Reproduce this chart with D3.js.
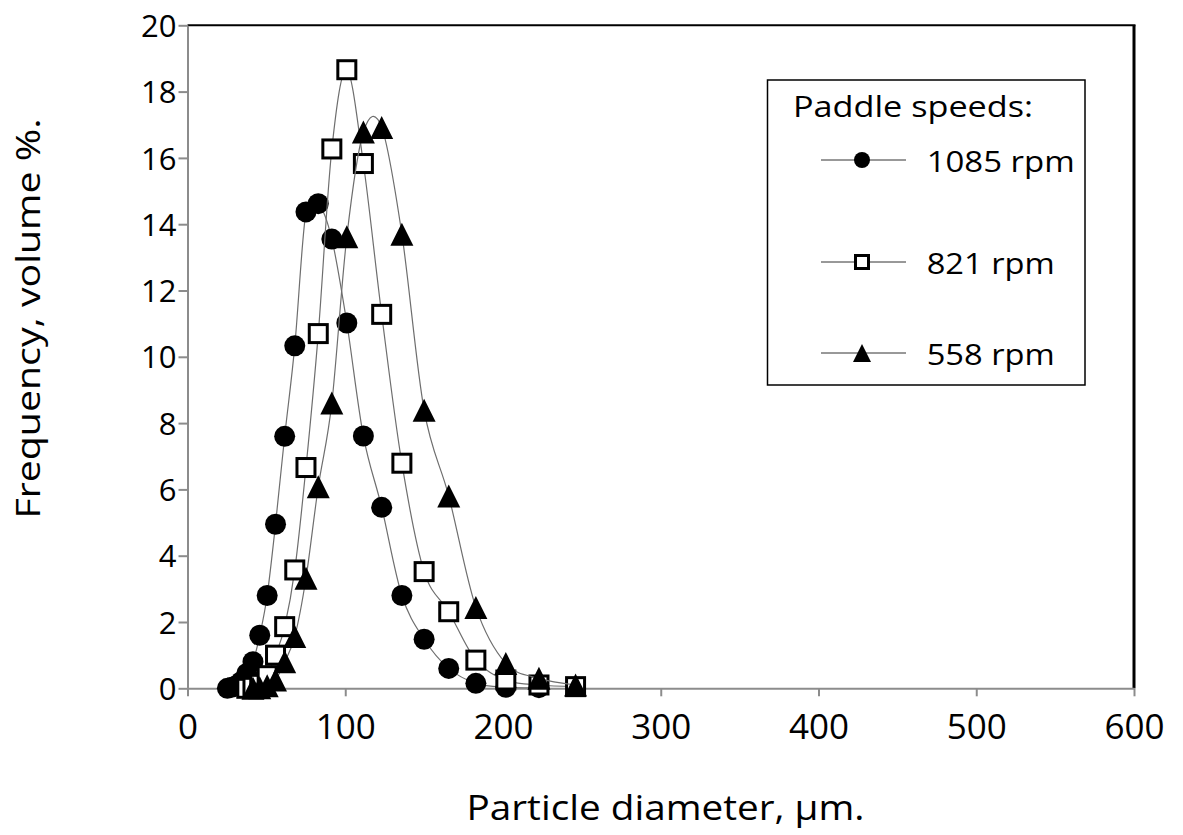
<!DOCTYPE html>
<html>
<head>
<meta charset="utf-8">
<script src="https://cdn.jsdelivr.net/npm/d3@7/dist/d3.min.js"></script>
<style>
  html, body { margin: 0; padding: 0; background: #fff; }
  svg { display: block; }
  text { font-family: "Open Sans", "Noto Sans", sans-serif; fill: #000; }
</style>
</head>
<body>
<svg id="chart" width="1183" height="835"></svg>
<script>
// ---- data ----
const diameters = [25.3, 27.9, 30.8, 34.0, 37.6, 41.5, 45.8, 50.5, 55.8, 61.6, 68.0, 75.1, 82.9, 91.5, 101, 111.5, 123.1, 135.9, 150, 165.6, 182.8, 201.8, 222.8, 246];
const rpm1085 = [0.0, 0.03, 0.08, 0.2, 0.45, 0.8, 1.6, 2.8, 4.95, 7.6, 10.33, 14.37, 14.62, 13.55, 11.02, 7.61, 5.46, 2.8, 1.48, 0.6, 0.15, 0.03, 0.02, null];
const rpm821  = [null, null, null, null, 0.0, 0.03, 0.12, 0.38, 1.0, 1.86, 3.57, 6.66, 10.70, 16.27, 18.66, 15.83, 11.28, 6.79, 3.52, 2.31, 0.85, 0.25, 0.10, 0.05];
const rpm558  = [null, null, null, null, null, 0.0, 0.02, 0.08, 0.25, 0.8, 1.56, 3.32, 6.08, 8.61, 13.62, 16.78, 16.92, 13.7, 8.39, 5.80, 2.44, 0.75, 0.30, 0.10];
const seriesNames = ["1085 rpm", "821 rpm", "558 rpm"];
const seriesMarkers = ["circle", "square", "triangle"];
const xTicks = [0, 100, 200, 300, 400, 500, 600];
const yTicks = [0, 2, 4, 6, 8, 10, 12, 14, 16, 18, 20];
const legendTitle = "Paddle speeds:";
const xTitle = "Particle diameter, \u00b5m.";
const yTitle = "Frequency, volume %.";

const seriesValues = [rpm1085, rpm821, rpm558];

// ---- layout ----
const svg = d3.select("#chart");
const L = 187.5, R = 1134, T = 25.3, B = 688.3;
const x = d3.scaleLinear().domain([0, 600]).range([L, R]);
const y = d3.scaleLinear().domain([0, 20]).range([B, T]);

// frame: top & right black
svg.append("line").attr("x1", L).attr("x2", R + 1.5).attr("y1", T).attr("y2", T)
  .attr("stroke", "#000").attr("stroke-width", 2);
svg.append("line").attr("x1", R).attr("x2", R).attr("y1", T).attr("y2", B)
  .attr("stroke", "#000").attr("stroke-width", 3);

// axes
const axisColor = "#8c8c8c";
const gx = svg.append("g").attr("transform", `translate(0,${B})`)
  .call(d3.axisBottom(x).tickValues(xTicks).tickSize(8).tickPadding(10).tickSizeOuter(0));
gx.select(".domain").attr("stroke", axisColor).attr("stroke-width", 2);
gx.selectAll(".tick line").attr("stroke", axisColor).attr("stroke-width", 2);
gx.selectAll(".tick text").attr("font-size", 35).attr("fill", "#000")
  .attr("dy", null).attr("y", 51).attr("font-family", "'Open Sans', sans-serif");

const gy = svg.append("g").attr("transform", `translate(${L},0)`)
  .call(d3.axisLeft(y).tickValues(yTicks).tickSize(9).tickPadding(2).tickSizeOuter(0));
gy.select(".domain").attr("stroke", axisColor).attr("stroke-width", 2);
gy.selectAll(".tick line").attr("stroke", axisColor).attr("stroke-width", 2);
gy.selectAll(".tick text").attr("font-size", 31).attr("fill", "#000")
  .attr("dy", "0.36em").attr("x", -11).attr("font-family", "'Open Sans', sans-serif");

// titles
svg.append("text").attr("x", 665.5).attr("y", 820).attr("text-anchor", "middle")
  .attr("font-size", 34).attr("textLength", 398).attr("lengthAdjust", "spacingAndGlyphs")
  .text(xTitle);
svg.append("text").attr("transform", "translate(40,318.5) rotate(-90)").attr("text-anchor", "middle")
  .attr("font-size", 33).attr("textLength", 400).attr("lengthAdjust", "spacingAndGlyphs")
  .text(yTitle);

// marker drawing
function drawMarker(g, type, cx, cy, size) {
  if (type === "circle") {
    g.append("circle").attr("cx", cx).attr("cy", cy).attr("r", size / 2).attr("fill", "#000");
  } else if (type === "square") {
    const s = size - 3;
    g.append("rect").attr("x", cx - s / 2).attr("y", cy - s / 2).attr("width", s).attr("height", s)
      .attr("fill", "#fff").attr("stroke", "#000").attr("stroke-width", 3);
  } else {
    const h = size, w = size;
    g.append("path").attr("d", `M${cx},${cy - h / 2}L${cx + w / 2},${cy + h / 2}L${cx - w / 2},${cy + h / 2}Z`)
      .attr("fill", "#000");
  }
}

const line = d3.line()
  .defined(d => d.v !== null)
  .x(d => x(d.d)).y(d => y(d.v))
  .curve(d3.curveCardinal.tension(0));

seriesValues.forEach((vals, i) => {
  const pts = diameters.map((d, k) => ({ d: d, v: vals[k] })).filter(p => p.v !== null);
  const g = svg.append("g");
  g.append("path").datum(pts).attr("d", line).attr("fill", "none")
    .attr("stroke", "#6e6e6e").attr("stroke-width", 1.2);
  pts.forEach(p => drawMarker(g, seriesMarkers[i], x(p.d), y(p.v), seriesMarkers[i] === "triangle" ? 23 : 21));
});

// legend
const lg = svg.append("g");
lg.append("rect").attr("x", 767.5).attr("y", 80).attr("width", 317.5).attr("height", 305)
  .attr("fill", "#fff").attr("stroke", "#000").attr("stroke-width", 1.5);
lg.append("text").attr("x", 793).attr("y", 117).attr("font-size", 29)
  .attr("textLength", 240).attr("lengthAdjust", "spacingAndGlyphs").text(legendTitle);
const rowY = [160, 262, 353];
const textLens = [148, 128, 128];
seriesNames.forEach((name, i) => {
  lg.append("line").attr("x1", 821).attr("x2", 906).attr("y1", rowY[i]).attr("y2", rowY[i])
    .attr("stroke", "#333").attr("stroke-width", 1);
  drawMarker(lg, seriesMarkers[i], 862, rowY[i], seriesMarkers[i] === "triangle" ? 18 : 16);
  lg.append("text").attr("x", 926.7).attr("y", rowY[i] + 11.5).attr("font-size", 29)
    .attr("textLength", textLens[i]).attr("lengthAdjust", "spacingAndGlyphs").text(name);
});
</script>
</body>
</html>
